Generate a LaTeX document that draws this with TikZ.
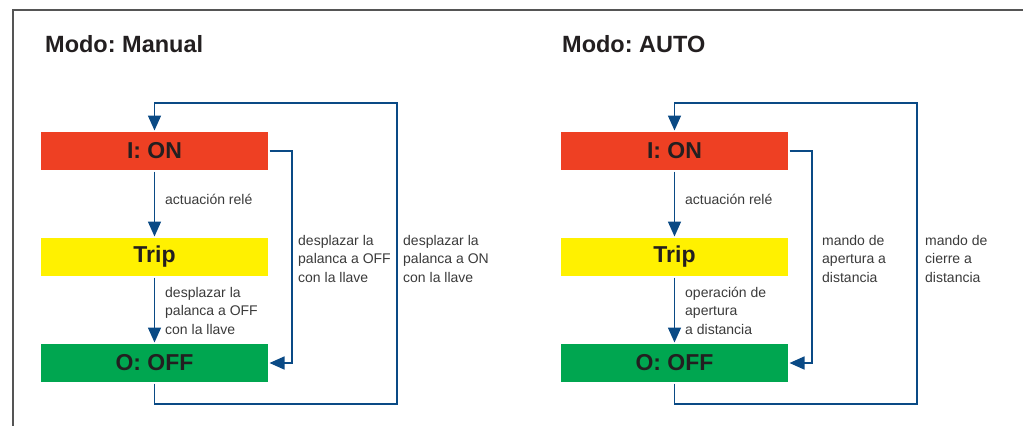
\documentclass[tikz,border=0pt]{standalone}
\usepackage{fontspec}
\setmainfont{Liberation Sans}
\usetikzlibrary{arrows.meta}
\definecolor{onred}{HTML}{EE4023}
\definecolor{tripyel}{HTML}{FFF100}
\definecolor{offgrn}{HTML}{00A650}
\definecolor{lineblue}{HTML}{0A4A85}
\definecolor{txtdark}{HTML}{231F20}
\definecolor{lblgray}{HTML}{3A3A3A}
\definecolor{framegray}{HTML}{555555}
\frenchspacing
\begin{document}
\begin{tikzpicture}[x=1pt,y=-1pt,
  statebox/.style={minimum width=227pt,minimum height=38pt,inner sep=0pt,outer sep=1.5pt,
    font=\fontsize{23}{27}\selectfont\bfseries,text=txtdark},
  titletext/.style={anchor=base west,inner sep=0pt,font=\fontsize{23.5}{28}\selectfont\bfseries,text=txtdark},
  lbltext/.style={anchor=north west,inner sep=0pt,align=left,font=\fontsize{14}{18.5}\selectfont,text=lblgray},
  conn/.style={draw=lineblue,line width=1.6pt},
  arr/.style={conn,-{Triangle[length=15pt,width=13pt]}}]
\useasboundingbox (0,0) rectangle (1023,426);
\draw[framegray,line width=1.6pt] (1023,10) -- (13,10) -- (13,426);

% ---------- Manual ----------
\node[titletext] (t1) at (45,52.3) {Modo: Manual};
\node[statebox,fill=onred] (on1) at (154.5,151) {I: ON};
\node[statebox,fill=tripyel] (trip1) at (154.5,257) {Trip};
\node[statebox,fill=offgrn] (off1) at (154.5,363) {O: OFF};
\coordinate (lb1) at (397,404);
\coordinate (lt1) at (397,103);
\draw[arr] (on1) -- (trip1);
\draw[arr] (trip1) -- (off1);
\draw[arr] (on1.east) -- ++(22.5,0) |- (off1.east);
\draw[arr] (off1.south) |- (lb1) -- (lt1) -| (on1.north);
\node[lbltext] (l11) at (165,193.7) {actuación relé};
\node[lbltext] (l12) at (165,286.7) {desplazar la\\palanca a OFF\\con la llave};
\node[lbltext] (l13) at (298,234.7) {desplazar la\\palanca a OFF\\con la llave};
\node[lbltext] (l14) at (403,234.7) {desplazar la\\palanca a ON\\con la llave};

% ---------- AUTO ----------
\node[titletext] (t2) at (562,52.3) {Modo: AUTO};
\node[statebox,fill=onred] (on2) at (674.5,151) {I: ON};
\node[statebox,fill=tripyel] (trip2) at (674.5,257) {Trip};
\node[statebox,fill=offgrn] (off2) at (674.5,363) {O: OFF};
\coordinate (lb2) at (917,404);
\coordinate (lt2) at (917,103);
\draw[arr] (on2) -- (trip2);
\draw[arr] (trip2) -- (off2);
\draw[arr] (on2.east) -- ++(22.5,0) |- (off2.east);
\draw[arr] (off2.south) |- (lb2) -- (lt2) -| (on2.north);
\node[lbltext] (l21) at (685,193.7) {actuación relé};
\node[lbltext] (l22) at (685,286.7) {operación de\\apertura\\a distancia};
\node[lbltext] (l23) at (822,234.7) {mando de\\apertura a\\distancia};
\node[lbltext] (l24) at (925,234.7) {mando de\\cierre a\\distancia};
\end{tikzpicture}
\end{document}
